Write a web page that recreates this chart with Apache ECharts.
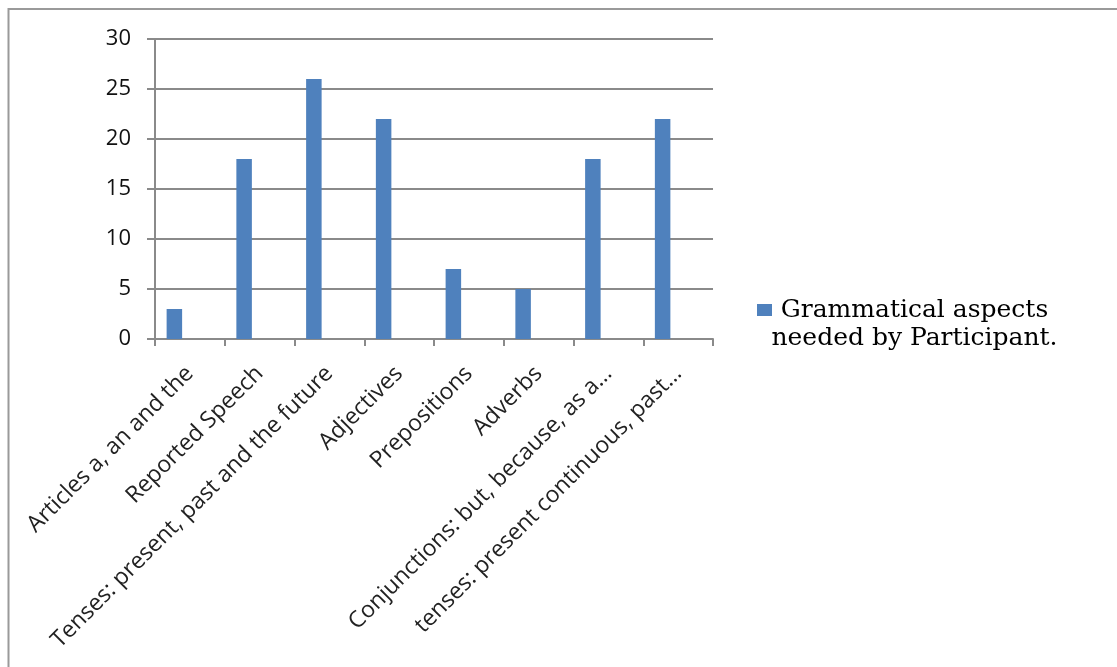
<!DOCTYPE html>
<html>
<head>
<meta charset="utf-8">
<script src="https://cdn.jsdelivr.net/npm/echarts@6/dist/echarts.min.js"></script>
<style>
  html, body { margin: 0; padding: 0; background: #fff; }
  #chart { width: 1117px; height: 667px; }
</style>
</head>
<body>
<div id="chart"></div>
<script>
// Grammatical aspects needed by participants
const categories = [
  'Articles a, an and the',
  'Reported Speech',
  'Tenses: present, past and the future',
  'Adjectives',
  'Prepositions',
  'Adverbs',
  'Conjunctions: but, because, as a\u2026',
  'tenses: present continuous, past\u2026'
];
const needed = [3, 18, 26, 22, 7, 5, 18, 22];
const seriesName = 'Grammatical aspects\nneeded by Participant.';
const yTicks = { min: 0, max: 30, interval: 5 };

const chart = echarts.init(document.getElementById('chart'), null, { renderer: 'canvas' });
const gray = '#8a8a8a';
const barColor = '#4f81bd';
const legendFont = '"DejaVu Serif", "Liberation Serif", serif';

chart.setOption({
  animation: false,
  backgroundColor: '#fff',
  graphic: [{
    type: 'rect',
    shape: { x: 8.5, y: 9, width: 1200, height: 700 },
    style: { fill: 'none', stroke: '#9a9a9a', lineWidth: 2 },
    silent: true
  }],
  grid: { left: 155, right: 404, top: 39, bottom: 328, containLabel: false },
  legend: {
    data: [seriesName],
    left: 757,
    top: 268,
    padding: 0,
    orient: 'vertical',
    icon: 'rect',
    itemWidth: 15,
    itemHeight: 12,
    itemGap: 8,
    // a blank leading line keeps the square level with the first text line;
    // each text line is centred in a common box
    formatter: name => ' \n' + name.split('\n').map(s => '{c|' + s + '}').join('\n'),
    textStyle: {
      fontFamily: legendFont,
      fontSize: 25,
      color: '#000',
      lineHeight: 28,
      padding: [0, 0, 0, -5],
      rich: {
        c: {
          width: 285,
          align: 'center',
          fontFamily: legendFont,
          fontSize: 25,
          lineHeight: 28,
          color: '#000'
        }
      }
    }
  },
  xAxis: {
    type: 'category',
    data: categories,
    boundaryGap: true,
    axisLine: { lineStyle: { color: gray, width: 2 } },
    axisTick: { show: true, length: 7, alignWithLabel: false, lineStyle: { color: gray, width: 2 } },
    axisLabel: {
      interval: 0,
      rotate: 45,
      margin: 31,
      fontFamily: '"Open Sans", "Noto Sans", sans-serif',
      fontSize: 23,
      color: '#222'
    },
    splitLine: { show: false }
  },
  yAxis: {
    type: 'value',
    min: yTicks.min,
    max: yTicks.max,
    interval: yTicks.interval,
    axisLine: { show: true, lineStyle: { color: gray, width: 2 } },
    axisTick: { show: true, length: 8, lineStyle: { color: gray, width: 2 } },
    axisLabel: {
      margin: 24,
      fontFamily: '"Open Sans", "Noto Sans", sans-serif',
      fontSize: 22,
      color: '#111'
    },
    splitLine: { show: true, lineStyle: { color: gray, width: 2 } }
  },
  series: [
    {
      name: seriesName,
      type: 'bar',
      data: needed,
      barGap: '0%',
      barCategoryGap: '33.3%',
      itemStyle: { color: barColor }
    },
    // two empty companion series keep the cluster slots of the original workbook
    { name: 'slot2', type: 'bar', data: [], barGap: '0%', barCategoryGap: '33.3%' },
    { name: 'slot3', type: 'bar', data: [], barGap: '0%', barCategoryGap: '33.3%' }
  ]
});
</script>
</body>
</html>
